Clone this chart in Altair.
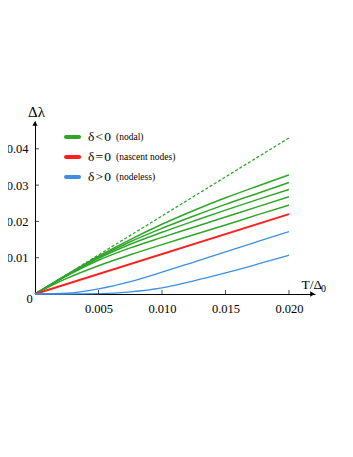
import altair as alt
import pandas as pd

# ---- data ----
T = [0, 0.0025, 0.005, 0.0075, 0.01, 0.0125, 0.015, 0.0175, 0.02]

nodal_1 = [0, 0.0053, 0.0104, 0.0150, 0.0192, 0.0230, 0.0265, 0.0297, 0.0328]
nodal_2 = [0, 0.0052, 0.0101, 0.0144, 0.0181, 0.0215, 0.0247, 0.0277, 0.0307]
nodal_3 = [0, 0.0051, 0.0098, 0.0137, 0.0170, 0.0201, 0.0231, 0.0260, 0.0288]
nodal_4 = [0, 0.0050, 0.0093, 0.0127, 0.0156, 0.0184, 0.0212, 0.0240, 0.0268]
nodal_5 = [0, 0.0043, 0.0078, 0.0108, 0.0136, 0.0163, 0.0190, 0.0218, 0.0245]

nodeless_1 = [0, 0.0002, 0.0014, 0.0034, 0.0060, 0.0088, 0.0116, 0.0144, 0.0172]
nodeless_2 = [0, 0.0000, 0.0001, 0.0006, 0.0017, 0.0036, 0.0058, 0.0082, 0.0107]

limit_T = [0, 0.02]
limit_vals = [0, 0.043]
nascent_T = [0, 0.02]
nascent_vals = [0, 0.022]

x_ticks = [0.005, 0.010, 0.015, 0.020]
y_ticks = [0.01, 0.02, 0.03, 0.04]

legend_main = ["δ\u200a<\u200a0", "δ\u200a=\u200a0", "δ\u200a>\u200a0"]
legend_note = ["(nodal)", "(nascent nodes)", "(nodeless)"]

GREEN = "#2fa52b"
RED = "#ff1f1f"
BLUE = "#3d8fe3"
legend_colors = [GREEN, RED, BLUE]

FONT = "Liberation Serif"
W, H = 280, 173
XMAX, YMAX = 0.02205, 0.04766


def long(xs, curves, prefix):
    rows = []
    for i, c in enumerate(curves):
        for x, y in zip(xs, c):
            rows.append({"T": x, "v": y, "curve": f"{prefix}{i}"})
    return pd.DataFrame(rows)


green_df = long(T, [nodal_1, nodal_2, nodal_3, nodal_4, nodal_5], "g")
blue_df = long(T, [nodeless_1, nodeless_2], "b")
limit_df = long(limit_T, [limit_vals], "d")
red_df = long(nascent_T, [nascent_vals], "r")

xs = alt.Scale(domain=[0, XMAX], nice=False, zero=False)
ys = alt.Scale(domain=[0, YMAX], nice=False, zero=False)

xaxis = alt.Axis(values=x_ticks, format=".3f", ticks=False, grid=False, title=None,
                 domainColor="black", domainWidth=1, labelFont=FONT, labelFontSize=12.5,
                 labelColor="black", labelPadding=8)
yaxis = alt.Axis(values=y_ticks, format=".2f", ticks=False, grid=False, title=None,
                 domainColor="black", domainWidth=1, labelFont=FONT, labelFontSize=12.5,
                 labelColor="black", labelPadding=7)

X = alt.X("T:Q", scale=xs, axis=xaxis)
Y = alt.Y("v:Q", scale=ys, axis=yaxis)

green = alt.Chart(green_df).mark_line(color=GREEN, strokeWidth=1.5, interpolate="monotone").encode(
    x=X, y=Y, detail="curve:N")
blue = alt.Chart(blue_df).mark_line(color=BLUE, strokeWidth=1.3, interpolate="monotone").encode(
    x=alt.X("T:Q", scale=xs), y=alt.Y("v:Q", scale=ys), detail="curve:N")
dashed = alt.Chart(limit_df).mark_line(color=GREEN, strokeWidth=1.3, strokeDash=[3, 2]).encode(
    x=alt.X("T:Q", scale=xs), y=alt.Y("v:Q", scale=ys))
red = alt.Chart(red_df).mark_line(color=RED, strokeWidth=2).encode(
    x=alt.X("T:Q", scale=xs), y=alt.Y("v:Q", scale=ys))

xt = alt.Chart(pd.DataFrame({"t": x_ticks})).mark_tick(
    color="black", size=4, thickness=1, yOffset=-2, orient="vertical").encode(
    x=alt.X("t:Q", scale=xs), y=alt.value(H))
yt = alt.Chart(pd.DataFrame({"t": y_ticks})).mark_tick(
    color="black", size=4, thickness=1, xOffset=2, orient="horizontal").encode(
    y=alt.Y("t:Q", scale=ys), x=alt.value(0))

one = pd.DataFrame({"a": [0]})
zero_lbl = alt.Chart(one).mark_text(text="0", font=FONT, fontSize=12.5, color="black",
                                    baseline="middle", align="center").encode(
    x=alt.value(-5.5), y=alt.value(H + 4.5))
arrow_up = alt.Chart(one).mark_point(shape="triangle-up", filled=True, color="black",
                                     size=28, opacity=1).encode(x=alt.value(0), y=alt.value(2.5))
arrow_right = alt.Chart(one).mark_point(shape="triangle-right", filled=True, color="black",
                                        size=28, opacity=1).encode(x=alt.value(W - 2.5), y=alt.value(H))
ytitle = alt.Chart(one).mark_text(text="Δλ", font=FONT, fontSize=15, color="black",
                                  baseline="middle", align="center").encode(
    x=alt.value(1.5), y=alt.value(-9))
xtitle = alt.Chart(one).mark_text(text="T/Δ", font=FONT, fontSize=13.5, color="black",
                                  baseline="alphabetic", align="left").encode(
    x=alt.value(266.5), y=alt.value(168))
xsub = alt.Chart(one).mark_text(text="0", font=FONT, fontSize=10, color="black",
                                baseline="alphabetic", align="left").encode(
    x=alt.value(286), y=alt.value(171))

legend_layers = []
for i, (m, n, c) in enumerate(zip(legend_main, legend_note, legend_colors)):
    yy = 16 + 20 * i
    legend_layers.append(alt.Chart(one).mark_rule(color=c, strokeWidth=4, strokeCap="round").encode(
        x=alt.value(31), x2=alt.value(44), y=alt.value(yy)))
    legend_layers.append(alt.Chart(one).mark_text(text=m, font=FONT, fontSize=13.5, color="black",
                                                  baseline="middle", align="left").encode(
        x=alt.value(53), y=alt.value(yy)))
    legend_layers.append(alt.Chart(one).mark_text(text=n, font=FONT, fontSize=9.5, color="black",
                                                  baseline="middle", align="left").encode(
        x=alt.value(81), y=alt.value(yy)))

chart = alt.layer(
    green, dashed, red, blue, xt, yt, zero_lbl, arrow_up, arrow_right,
    ytitle, xtitle, xsub, *legend_layers
).properties(
    width=W, height=H,
    padding={"left": 27, "top": 113, "right": 30, "bottom": 60},
    autosize=alt.AutoSizeParams(type="none"),
    background="white",
).configure_view(stroke=None).configure_axis(labelFont=FONT).configure_text(font=FONT)

chart.save("out.html", embed_options={"renderer": "svg", "actions": False})
